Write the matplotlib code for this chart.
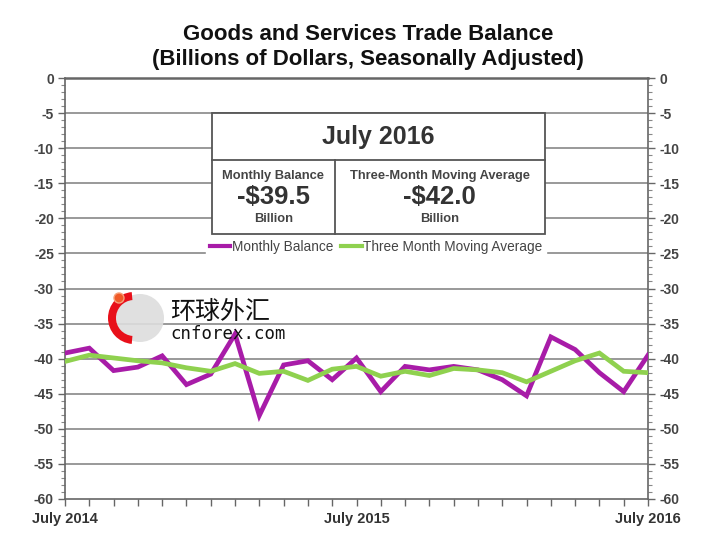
import matplotlib
matplotlib.use("Agg")
import matplotlib.pyplot as plt
from matplotlib.patches import Rectangle, Circle, Wedge
from matplotlib.lines import Line2D
from matplotlib.ticker import MultipleLocator

plt.rcParams['font.family'] = ['Liberation Sans', 'DejaVu Sans']

months = list(range(25))
tick_labels = {0: "July 2014", 12: "July 2015", 24: "July 2016"}
monthly_balance = [-39.2, -38.5, -41.7, -41.2, -39.6, -43.7, -42.2, -36.5, -48.1,
                   -40.9, -40.3, -43.0, -39.9, -44.7, -41.1, -41.6, -41.1, -41.6,
                   -43.0, -45.3, -36.9, -38.7, -42.0, -44.7, -39.5]
moving_avg = [-40.4, -39.5, -39.9, -40.3, -40.6, -41.3, -41.8, -40.7, -42.1,
              -41.8, -43.1, -41.5, -41.1, -42.5, -41.8, -42.4, -41.4, -41.6,
              -42.0, -43.3, -41.8, -40.3, -39.2, -41.8, -42.0]

MAG = '#A81CA8'
GRN = '#8FD14F'
TXT = '#333333'
GRID = '#999999'

fig = plt.figure(figsize=(7.2, 5.41), dpi=100)
ax = fig.add_axes([65/720, 1-499/541, (648-65)/720, (499-78)/541])

ax.set_xlim(0, 24)
ax.set_ylim(-60, 0)
ax.set_yticks(range(-60, 1, 5))
ax.yaxis.set_minor_locator(MultipleLocator(1))
for y in range(-55, 0, 5):
    ax.axhline(y, color=GRID, lw=1.4, zorder=1)

ax.plot(months, monthly_balance, color=MAG, lw=3.4, zorder=3, solid_joinstyle='miter')
ax.plot(months, moving_avg, color=GRN, lw=3.4, zorder=4, solid_joinstyle='miter')

ax.set_xticks(months)
ax.set_xticklabels([tick_labels.get(m, "") for m in months], fontsize=10.5,
                   fontweight='bold', color=TXT)
ax.tick_params(axis='x', direction='out', length=5, width=1, color='#666666', pad=4)
ax.tick_params(axis='y', which='major', direction='out', length=5, width=1,
               color='#666666', labelsize=10, labelcolor='#444444', left=True, right=True,
               labelleft=True, labelright=True, pad=3)
ax.tick_params(axis='y', which='minor', direction='out', length=3, width=0.8,
               color='#888888', left=True, right=True)
ax.set_yticklabels([str(v) for v in range(-60, 1, 5)])
for t in ax.yaxis.get_major_ticks():
    t.label1.set_fontweight('bold')
    t.label2.set_fontweight('bold')
for s in ax.spines.values():
    s.set_color('#666666')
    s.set_linewidth(1.2)
ax.spines['top'].set_linewidth(1.8)

# Title
fig.text(368/720, 1-35/541, "Goods and Services Trade Balance", ha='center', va='center',
         fontsize=16, fontweight='bold', color='#111111')
fig.text(368/720, 1-59/541, "(Billions of Dollars, Seasonally Adjusted)", ha='center', va='center',
         fontsize=16, fontweight='bold', color='#111111')

# Info box (data coords)
bx0, bx1, by0, by1, bmid, bdiv = 6.05, 19.75, -22.2, -5.0, -11.7, 11.1
ax.add_patch(Rectangle((bx0, by0), bx1-bx0, by1-by0, facecolor='white',
                       edgecolor='#555555', lw=1.3, zorder=5))
ax.plot([bx0, bx1], [bmid, bmid], color='#555555', lw=1.3, zorder=6)
ax.plot([bdiv, bdiv], [by0, bmid], color='#555555', lw=1.3, zorder=6)
ax.text((bx0+bx1)/2, (by1+bmid)/2, "July 2016", ha='center', va='center',
        fontsize=18, fontweight='bold', color=TXT, zorder=7)
cl = (bx0+bdiv)/2
cr = (bdiv+bx1)/2
ax.text(cl, -13.9, "Monthly Balance", ha='center', va='center', fontsize=9.3,
        fontweight='bold', color='#444444', zorder=7)
ax.text(cl, -17.0, "-$39.5", ha='center', va='center', fontsize=18.5,
        fontweight='bold', color=TXT, zorder=7)
ax.text(cl, -20.1, "Billion", ha='center', va='center', fontsize=9.3,
        fontweight='bold', color='#444444', zorder=7)
ax.text(cr, -13.9, "Three-Month Moving Average", ha='center', va='center', fontsize=9.3,
        fontweight='bold', color='#444444', zorder=7)
ax.text(cr, -17.0, "-$42.0", ha='center', va='center', fontsize=18.5,
        fontweight='bold', color=TXT, zorder=7)
ax.text(cr, -20.1, "Billion", ha='center', va='center', fontsize=9.3,
        fontweight='bold', color='#444444', zorder=7)

# Legend
handles = [Line2D([], [], color=MAG, lw=3), Line2D([], [], color=GRN, lw=3)]
leg = ax.legend(handles, ["Monthly Balance", "Three Month Moving Average"], ncol=2,
                loc='center', bbox_to_anchor=((376-65)/583, 1-(247-78)/421),
                frameon=True, fontsize=9.8, handlelength=1.5, handletextpad=0.1,
                columnspacing=0.6, borderpad=0.25, labelcolor='#444444')
leg.get_frame().set_edgecolor('white')
leg.get_frame().set_facecolor('white')
leg.get_frame().set_alpha(1)
leg.set_zorder(8)

# Watermark
wax = fig.add_axes([0, 0, 1, 1], facecolor='none')
wax.set_xlim(0, 720)
wax.set_ylim(541, 0)
wax.axis('off')
wax.add_patch(Circle((140, 318), 24, facecolor='#dddddd', edgecolor='none', alpha=0.9))
wax.add_patch(Wedge((134, 318), 26, 95, 265, width=8, facecolor='#e8101a', edgecolor='none'))
wax.add_patch(Circle((119, 298), 5, facecolor='#f05a28', edgecolor='#f7a07a', lw=1))
wax.text(170, 312, "环球外汇", ha='left', va='center', fontsize=18,
         family=['Noto Sans CJK SC', 'DejaVu Sans'], color='#111111')
wax.text(170, 334, "cnforex.com", ha='left', va='center', fontsize=12.5,
         family='DejaVu Sans Mono', color='#111111')

fig.savefig("out.png", dpi=100, facecolor='white')
